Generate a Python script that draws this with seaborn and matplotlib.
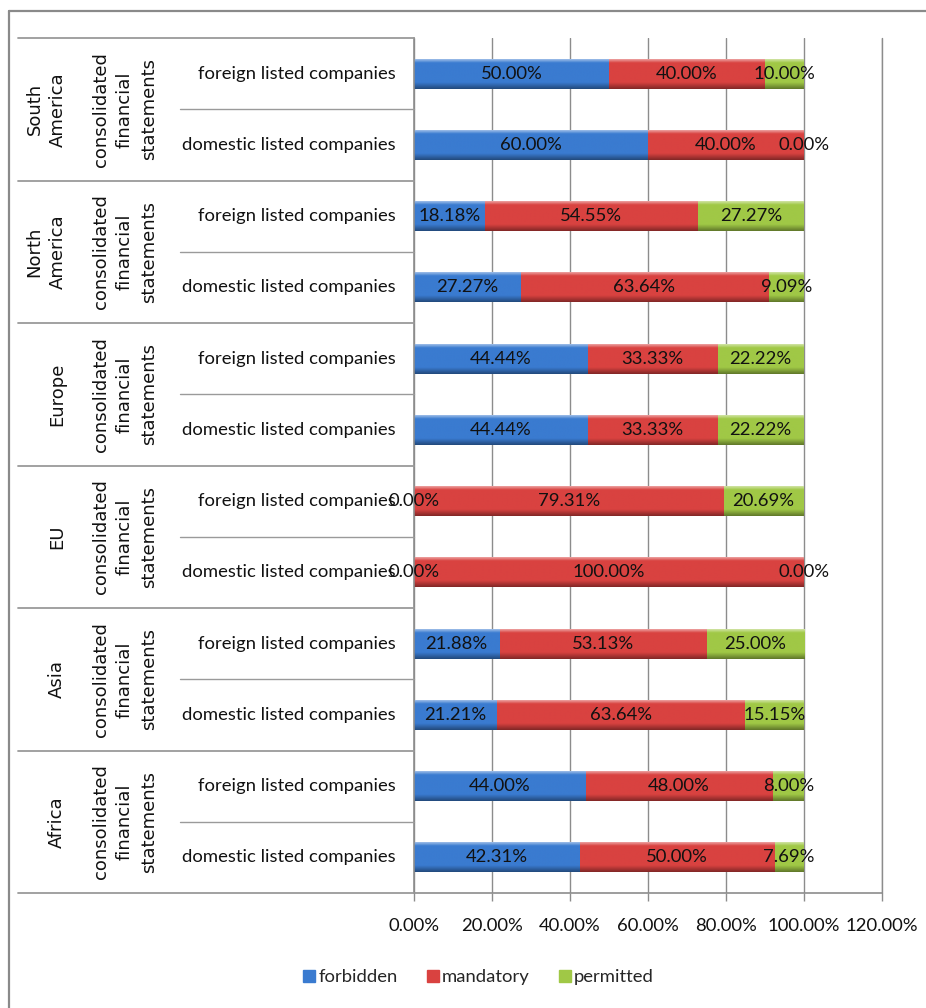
import numpy as np
import pandas as pd
import matplotlib
matplotlib.use("Agg")
import matplotlib.pyplot as plt
import matplotlib.transforms as mtransforms
from matplotlib.lines import Line2D
from matplotlib.colors import to_rgb
import seaborn as sns

# ---- data -------------------------------------------------------------
regions = ["South\nAmerica", "North\nAmerica", "Europe", "EU", "Asia", "Africa"]
statement = "consolidated\nfinancial\nstatements"
company_types = ["foreign listed companies", "domestic listed companies"]

forbidden = [50.00, 60.00, 18.18, 27.27, 44.44, 44.44, 0.00, 0.00, 21.88, 21.21, 44.00, 42.31]
mandatory = [40.00, 40.00, 54.55, 63.64, 33.33, 33.33, 79.31, 100.00, 53.13, 63.64, 48.00, 50.00]
permitted = [10.00, 0.00, 27.27, 9.09, 22.22, 22.22, 20.69, 0.00, 25.00, 15.15, 8.00, 7.69]

series_names = ["forbidden", "mandatory", "permitted"]
x_ticks = [0, 20, 40, 60, 80, 100, 120]

colors = {"forbidden": "#3a7bd0", "mandatory": "#d94240", "permitted": "#a0c846"}

# ---- table -------------------------------------------------------------
rows = [f"{r}|{c}" for r in regions for c in company_types]
df = pd.DataFrame({"row": rows, "forbidden": forbidden,
                   "mandatory": mandatory, "permitted": permitted})
df["cum_f"] = df["forbidden"]
df["cum_m"] = df["forbidden"] + df["mandatory"]
df["cum_p"] = df["cum_m"] + df["permitted"]

sns.set_theme(style="white")
plt.rcParams["font.family"] = ["Lato", "DejaVu Sans"]

W, H = 926, 1008
fig = plt.figure(figsize=(W / 100, H / 100), dpi=100)
fig.patch.set_facecolor("white")

def fx(px):
    return px / W

def fy(py):
    return 1 - py / H

ax_l, ax_r, ax_t, ax_b = 414, 882, 38, 893
ax = fig.add_axes([fx(ax_l), fy(ax_b), fx(ax_r - ax_l), fy(ax_t) - fy(ax_b)])

bar_w = 0.42
layers = [("cum_p", "permitted"), ("cum_m", "mandatory"), ("cum_f", "forbidden")]
for col, name in layers:
    sns.barplot(data=df, y="row", x=col, order=rows, orient="h",
                color=colors[name], width=bar_w, saturation=1,
                edgecolor="none", linewidth=0, ax=ax)

# bevel-like vertical shading on each bar segment
def shade(c):
    base = np.array(to_rgb(c))
    light = base + (1 - base) * 0.5
    dark = base * 0.6
    t = np.linspace(0, 1, 64)
    out = np.zeros((64, 1, 3))
    for i, v in enumerate(t):
        if v < 0.12:
            col = light + (base - light) * (v / 0.12)
        elif v < 0.78:
            col = base
        else:
            col = base + (dark - base) * ((v - 0.78) / 0.22)
        out[i, 0] = col
    return out

for p in list(ax.patches):
    w = p.get_width()
    if w <= 0:
        continue
    x0, y0, h = p.get_x(), p.get_y(), p.get_height()
    img = shade(p.get_facecolor())
    im = ax.imshow(img, extent=(x0, x0 + w, y0 + h, y0), aspect="auto",
                   interpolation="bilinear", zorder=p.get_zorder() + 0.1)
    im.set_clip_path(p)

ax.set_xlim(0, 120)
ax.set_ylim(len(rows) - 0.5, -0.5)

# value labels centred on each segment
label_font = 13.3
for i in range(len(rows)):
    starts = [0, df["cum_f"][i], df["cum_m"][i]]
    vals = [df["forbidden"][i], df["mandatory"][i], df["permitted"][i]]
    for s, v in zip(starts, vals):
        ax.text(s + v / 2, i, f"{v:.2f}%", ha="center", va="center",
                fontsize=label_font, color="#111111", zorder=10, clip_on=False)

# axes styling
ax.set_xticks(x_ticks)
ax.set_xticklabels([f"{t:.2f}%" for t in x_ticks], fontsize=label_font, color="#111111")
ax.set_yticks([])
ax.set_xlabel("")
ax.set_ylabel("")
ax.xaxis.grid(True, color="#8c8c8c", linewidth=1)
ax.axvline(x_ticks[-1], color="#8c8c8c", linewidth=1, clip_on=False, zorder=0)
ax.set_axisbelow(True)
for sp in ["top", "right"]:
    ax.spines[sp].set_visible(False)
for sp in ["left", "bottom"]:
    ax.spines[sp].set_color("#8c8c8c")
    ax.spines[sp].set_linewidth(1.2)
ax.tick_params(axis="x", length=6, color="#8c8c8c", width=1, pad=12, direction="out", bottom=True)

# multi-level category axis
tr = mtransforms.blended_transform_factory(fig.transFigure, ax.transData)
n_groups = len(regions)
for g in range(n_groups + 1):
    fig.add_artist(Line2D([fx(18), fx(ax_l)], [2 * g - 0.5, 2 * g - 0.5],
                          transform=tr, color="#9a9a9a", linewidth=1.3))
for g in range(n_groups):
    fig.add_artist(Line2D([fx(180), fx(ax_l)], [2 * g + 0.5, 2 * g + 0.5],
                          transform=tr, color="#9a9a9a", linewidth=1.0))

for i, r in enumerate(rows):
    ctype = r.split("|")[1]
    fig.text(fx(396), i, ctype, transform=tr,
             ha="right", va="center", fontsize=label_font, color="#111111")

rot_font = ["DejaVu Sans"]
for g, reg in enumerate(regions):
    yc = 2 * g + 0.5
    fig.text(fx(125), yc, statement, transform=tr, rotation=90,
             ha="center", va="center", multialignment="center",
             fontsize=13, linespacing=1.45, family=rot_font, color="#111111")
    xc = 46 if "\n" in reg else 57
    fig.text(fx(xc), yc, reg, transform=tr, rotation=90,
             ha="center", va="center", multialignment="center",
             fontsize=13, linespacing=1.35, family=rot_font, color="#111111")

# legend
handles = [Line2D([], [], marker="s", linestyle="none", markersize=8,
                  markerfacecolor=colors[n], markeredgecolor=colors[n]) for n in series_names]
fig.legend(handles, series_names, loc="center", bbox_to_anchor=(fx(478), fy(977)),
           ncol=3, frameon=False, fontsize=label_font, handletextpad=0.1,
           columnspacing=1.5, handlelength=0.8)

# chart-area border
fig.add_artist(Line2D([fx(9), fx(9)], [fy(11), 0], transform=fig.transFigure,
                      color="#8a8a8a", linewidth=1.6))
fig.add_artist(Line2D([fx(9), 1], [fy(11), fy(11)], transform=fig.transFigure,
                      color="#8a8a8a", linewidth=1.6))

fig.savefig("out.png", dpi=100, facecolor="white")
